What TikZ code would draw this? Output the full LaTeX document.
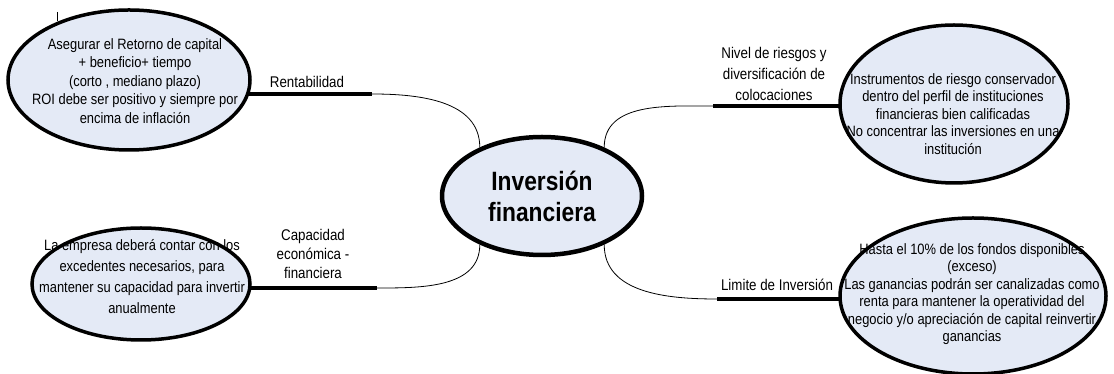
\documentclass[tikz,border=0pt]{standalone}
\usepackage{fontspec}
\setmainfont{Liberation Sans}[FakeStretch=0.86]
\usepackage{tikz}
\usetikzlibrary{shapes.geometric,backgrounds,positioning}
\definecolor{bubblefill}{RGB}{228,234,246}

\begin{document}
\begin{tikzpicture}[x=1pt,y=1pt]
	\tikzset{bubble/.style = {ellipse, draw = black, line width = 3.5pt, fill = bubblefill, inner sep = 0pt, align = center},
	bubtext/.style = {align = center, inner sep = 0pt, font = \fontsize{15}{17.5}\selectfont},
	tag/.style = {align = center, inner sep = 0pt, font = \fontsize{15.5}{20}\selectfont},
	branch/.style = {line width = 4pt},
	twig/.style = {line width = 0.8pt}}
\useasboundingbox (0,0) rectangle (1114,374);
% central idea
\node[bubble, line width = 4.5pt, minimum width = 200pt, minimum height = 118pt, font = \bfseries\fontsize{26.5}{31}\selectfont] (inv) at (542,178) {Inversión\\financiera};
% outer bubbles
\node[bubble, minimum width = 242pt, minimum height = 140pt] (ret) at (129,294) {};
\node[bubble, minimum width = 218pt, minimum height = 112pt] (cap) at (141,90) {};
\node[bubble, minimum width = 228pt, minimum height = 158pt] (niv) at (954,270) {};
\node[bubble, minimum width = 266pt, minimum height = 156pt] (lim) at (973,78) {};
\node[bubtext, font = \fontsize{15}{18.5}\selectfont] (retT) at (135,293) {Asegurar el Retorno de capital\\+ beneficio+ tiempo\\(corto , mediano plazo)\\ROI debe ser positivo y siempre por\\encima de inflación};
\node[bubtext, font = \fontsize{15}{21}\selectfont] (capT) at (142,97) {La empresa deberá contar con los\\excedentes necesarios, para\\mantener su capacidad para invertir\\anualmente};
\node[bubtext] (nivT) at (953,260) {Instrumentos de riesgo conservador\\dentro del perfil de instituciones\\financieras bien calificadas\\No concentrar las inversiones en una\\institución};
\node[bubtext] (limT) at (972,80) {Hasta el 10\% de los fondos disponibles\\(exceso)\\Las ganancias podrán ser canalizadas como\\renta para mantener la operatividad del\\negocio y/o apreciación de capital reinvertir\\ganancias};
% branch labels
\node[tag] (retL) at (307,292) {Rentabilidad};
\node[tag, font = \fontsize{15.5}{19}\selectfont] (capL) at (313,120) {Capacidad\\económica -\\financiera};
\node[tag, font = \fontsize{15.5}{21}\selectfont] (nivL) at (774,300) {Nivel de riesgos y\\diversificación de\\colocaciones};
\node[tag] (limL) at (777,89) {Limite de Inversión};
% joints
\coordinate (jR) at (372,280);
\coordinate (jC) at (377,86);
\coordinate (jN) at (713,268);
\coordinate (jL) at (717,75);
\coordinate (s1) at (57,362);
\coordinate (s2) at (57,353);
\begin{pgfonlayer}{background}
	\draw[branch] (jR) -- (jR -| ret);
	\draw[branch] (jC) -- (jC -| cap);
	\draw[branch] (jN) -- (jN -| niv);
	\draw[branch] (jL) -- (jL -| lim);
	\draw[twig] (jR) to[out = 0, in = 90] (inv.142);
	\draw[twig] (jC) to[out = 0, in = -90] (inv.218);
	\draw[twig] (jN) to[out = 180, in = 90] (inv.38);
	\draw[twig] (jL) to[out = 180, in = -90] (inv.322);
\end{pgfonlayer}
\draw[twig] (s1) -- (s2);
\end{tikzpicture}
\end{document}
